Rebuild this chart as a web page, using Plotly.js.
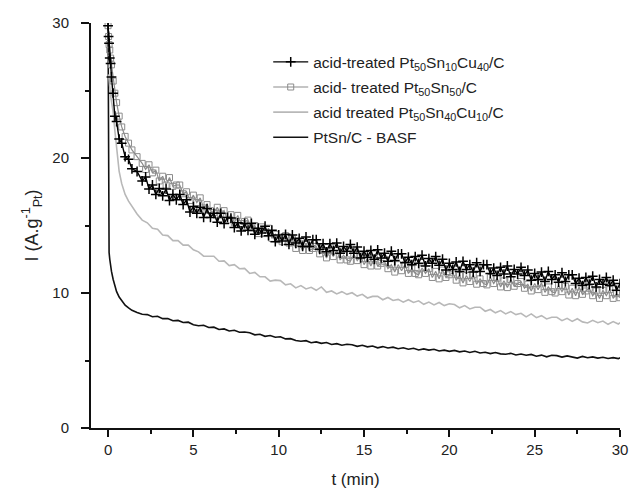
<!DOCTYPE html>
<html>
<head>
<meta charset="utf-8">
<script src="https://cdn.plot.ly/plotly-3.0.1.min.js"></script>
<style>html,body{margin:0;padding:0;background:#fff;}#chart{width:630px;height:489px;}</style>
</head>
<body>
<div id="chart"></div>
<script>
// time axis (min) for the two smoother curves
const timeMin = [0,0.03,0.06,0.1,0.15,0.2,0.3,0.4,0.5,0.65,0.8,1.0,1.2,1.4,1.7,2.0,
2.3,2.6,2.9,3.2,3.5,3.8,4.1,4.4,4.7,5.0,
5.3,5.6,5.9,6.2,6.5,6.8,7.1,7.4,7.7,8.0,
8.3,8.6,8.9,9.2,9.5,9.8,10.1,10.4,10.7,11.0,
11.3,11.6,11.9,12.2,12.5,12.8,13.1,13.4,13.7,14.0,
14.3,14.6,14.9,15.2,15.5,15.8,16.1,16.4,16.7,17.0,
17.3,17.6,17.9,18.2,18.5,18.8,19.1,19.4,19.7,20.0,
20.3,20.6,20.9,21.2,21.5,21.8,22.1,22.4,22.7,23.0,
23.3,23.6,23.9,24.2,24.5,24.8,25.1,25.4,25.7,26.0,
26.3,26.6,26.9,27.2,27.5,27.8,28.1,28.4,28.7,29.0,
29.3,29.6,29.9,30.0];

// denser time axis (min) for the two noisy curves
const timeDense = [0,0.03,0.06,0.1,0.15,0.2,0.3,0.4,0.5,0.65,0.8,1.0,1.2,1.4,1.7,2.0,
2.2,2.4,2.6,2.8,3.0, 3.2,3.4,3.6,3.8,4.0, 4.2,4.4,4.6,4.8,5.0, 5.2,5.4,5.6,5.8,6.0,
6.2,6.4,6.6,6.8,7.0, 7.2,7.4,7.6,7.8,8.0, 8.2,8.4,8.6,8.8,9.0, 9.2,9.4,9.6,9.8,10.0,
10.2,10.4,10.6,10.8,11.0, 11.2,11.4,11.6,11.8,12.0, 12.2,12.4,12.6,12.8,13.0, 13.2,13.4,13.6,13.8,14.0,
14.2,14.4,14.6,14.8,15.0, 15.2,15.4,15.6,15.8,16.0, 16.2,16.4,16.6,16.8,17.0, 17.2,17.4,17.6,17.8,18.0,
18.2,18.4,18.6,18.8,19.0, 19.2,19.4,19.6,19.8,20.0, 20.2,20.4,20.6,20.8,21.0, 21.2,21.4,21.6,21.8,22.0,
22.2,22.4,22.6,22.8,23.0, 23.2,23.4,23.6,23.8,24.0, 24.2,24.4,24.6,24.8,25.0, 25.2,25.4,25.6,25.8,26.0,
26.2,26.4,26.6,26.8,27.0, 27.2,27.4,27.6,27.8,28.0, 28.2,28.4,28.6,28.8,29.0, 29.2,29.4,29.6,29.8,30.0];

const seriesNames = [
  'acid-treated Pt<sub>50</sub>Sn<sub>10</sub>Cu<sub>40</sub>/C',
  'acid- treated Pt<sub>50</sub>Sn<sub>50</sub>/C',
  'acid treated Pt<sub>50</sub>Sn<sub>40</sub>Cu<sub>10</sub>/C',
  'PtSn/C - BASF'
];

const iPtSnCu_10_40 = [29.8,29.0,28.5,27.4,27.0,26.0,24.8,23.1,22.7,21.4,21.1,20.1,19.9,19.2,19.0,18.3,
18.6,17.7,18.0,17.3,17.75, 17.2,17.7,16.85,17.3,16.9, 17.3,16.55,16.9,16.0,16.4, 15.9,16.35,15.6,16.25,15.6,
15.9,15.25,15.9,15.15,15.6, 15.55,14.85,15.2,14.6,15.15, 14.65,15.15,14.35,14.8,14.45, 14.95,14.25,14.65,13.8,14.3,
13.85,14.35,13.6,14.3,13.7, 14.05,13.45,14.15,13.45,13.95, 13.95,13.25,13.65,13.05,13.65, 13.15,13.7,12.95,13.45,13.1,
13.6,12.95,13.4,12.6,13.1, 12.65,13.15,12.5,13.2,12.6, 12.95,12.35,13.1,12.4,12.9, 12.9,12.25,12.65,12.1,12.7,
12.2,12.8,12.0,12.55,12.2, 12.7,12.05,12.5,11.7,12.2, 11.75,12.3,11.6,12.35,11.75, 12.1,11.55,12.25,11.6,12.1,
12.1,11.45,11.85,11.3,11.9, 11.4,12.0,11.2,11.75,11.4, 11.9,11.3,11.7,10.95,11.45, 11.0,11.55,10.85,11.6,11.0,
11.35,10.8,11.5,10.85,11.35, 11.35,10.7,11.1,10.55,11.15, 10.65,11.25,10.45,11.0,10.65, 11.15,10.55,10.95,10.2,10.7];

const iPtSn_50 = [29.8,29.0,28.4,28.0,27.4,26.9,25.7,24.8,24.1,23.1,22.3,21.6,21.1,20.6,20.1,19.6,
19.15,19.5,18.9,19.1,18.3, 18.65,18.0,18.55,17.9,18.0, 18.0,17.35,17.5,16.85,17.25, 16.7,17.05,16.3,16.55,16.1,
15.95,16.35,15.85,16.1,15.4, 15.8,15.2,15.75,15.15,15.3, 15.4,14.8,15.0,14.4,14.9, 14.4,14.8,14.05,14.35,13.95,
13.8,14.25,13.7,14.0,13.3, 13.7,13.15,13.7,13.15,13.3, 13.45,12.9,13.15,12.6,13.15, 12.7,13.15,12.45,12.8,12.45,
12.35,12.85,12.4,12.75,12.1, 12.55,12.0,12.55,12.0,12.2, 12.35,11.8,12.1,11.55,12.1, 11.65,12.1,11.45,11.8,11.45,
11.35,11.85,11.45,11.8,11.15, 11.6,11.05,11.7,11.15,11.35, 11.5,10.95,11.3,10.75,11.3, 10.85,11.35,10.65,11.05,10.7,
10.6,11.15,10.7,11.1,10.45, 10.9,10.4,11.0,10.5,10.7, 10.85,10.35,10.65,10.15,10.7, 10.25,10.75,10.05,10.45,10.1,
10.0,10.55,10.1,10.5,9.85, 10.35,9.8,10.45,9.9,10.15, 10.35,9.8,10.15,9.6,10.2, 9.8,10.25,9.6,9.95,9.65];

const iPtSnCu_40_10 = [null,26.2,25.6,25.0,24.6,24.2,23.4,22.0,20.6,19.0,18.1,17.3,16.8,16.4,15.85,15.4,
15.2,14.8,14.72,14.3,14.25,13.88,13.88,13.55,13.55,13.2,
13.05,12.73,12.75,12.72,12.35,12.38,12.03,12.1,11.8,11.82,
11.45,11.52,11.2,11.2,10.88,10.95,10.92,10.6,10.68,10.38,
10.55,10.3,10.42,10.2,10.45,10.05,10.15,9.93,10.1,9.9,
10.02,9.77,9.9,9.63,9.75,9.75,9.5,9.67,9.45,9.53,
9.32,9.5,9.3,9.42,9.16,9.33,9.12,9.3,9.07,9.2,
9.15,8.9,9.07,8.82,8.95,8.95,8.65,8.78,8.53,8.7,
8.45,8.62,8.4,8.5,8.23,8.45,8.17,8.32,8.08,8.2,
8.2,7.95,8.12,7.9,8.09,7.86,7.78,7.98,7.8,7.92,
7.68,7.88,7.7,7.8];

const iBASF = [30,13.8,13.0,12.5,12.0,11.6,11.0,10.5,10.1,9.7,9.4,9.1,8.9,8.72,8.55,8.42,
8.4,8.24,8.28,8.1,8.11,7.94,7.97,7.82,7.84,7.65,
7.57,7.61,7.44,7.47,7.3,7.34,7.19,7.24,7.09,7.11,
7.05,6.9,6.94,6.79,6.85,6.72,6.76,6.6,6.62,6.48,
6.43,6.47,6.32,6.38,6.27,6.33,6.19,6.25,6.13,6.2,
6.17,6.05,6.13,6.01,6.07,5.94,6.03,5.93,5.99,5.87,
5.94,5.83,5.91,5.78,5.86,5.77,5.83,5.71,5.77,5.68,
5.75,5.64,5.7,5.59,5.68,5.56,5.61,5.51,5.59,5.49,
5.46,5.53,5.41,5.48,5.39,5.45,5.32,5.4,5.27,5.39,
5.36,5.25,5.34,5.24,5.18,5.3,5.2,5.27,5.18,5.24,
5.15,5.21,5.14,5.2];

const xTickVals = [0,5,10,15,20,25,30];
const yTickVals = [0,10,20,30];

const FONT = 'Liberation Sans, Arial, sans-serif';

const traces = [
  {x: timeMin, y: iBASF, name: seriesNames[3], mode: 'lines', legendrank: 4, legendgroup: 'd',
   line: {color: '#111111', width: 1.6}},
  {x: timeMin, y: iPtSnCu_40_10, name: seriesNames[2], mode: 'lines', legendrank: 3, legendgroup: 'c',
   line: {color: '#b8b8b8', width: 1.6}},
  {x: timeDense, y: iPtSn_50, name: seriesNames[1], mode: 'lines+markers', legendrank: 2, legendgroup: 'b',
   line: {color: '#8c8c8c', width: 1.2},
   marker: {symbol: 'square-open', size: 6, color: '#8c8c8c', line: {width: 1, color: '#8c8c8c'}}},
  {x: timeDense, y: iPtSnCu_10_40, name: seriesNames[0], mode: 'lines+markers', legendrank: 1, legendgroup: 'a',
   line: {color: '#000000', width: 1.4},
   marker: {symbol: 'cross-thin-open', size: 7, color: '#000000', line: {width: 1.5, color: '#000000'}}}
];

const layout = {
  width: 630, height: 489,
  margin: {l: 91, r: 10, t: 23, b: 61},
  paper_bgcolor: '#ffffff', plot_bgcolor: '#ffffff',
  font: {family: FONT, size: 15, color: '#222222'},
  showlegend: true,
  legend: {
    x: 0.335, y: 0.945, xanchor: 'left', yanchor: 'top',
    bgcolor: 'rgba(0,0,0,0)', borderwidth: 0,
    font: {family: FONT, size: 15.5, color: '#222222'},
    traceorder: 'grouped', tracegroupgap: 2, itemwidth: 35
  },
  xaxis: {
    range: [-1, 30], showgrid: false, zeroline: false,
    showline: true, linecolor: '#111111', linewidth: 2,
    tickmode: 'array', tickvals: xTickVals, ticktext: xTickVals.map(String),
    ticks: 'outside', ticklen: 7, tickwidth: 2, tickcolor: '#111111',
    ticklabelstandoff: 0,
    minor: {dtick: 2.5, tick0: 0, ticks: 'outside', ticklen: 4, tickwidth: 2, tickcolor: '#111111', showgrid: false},
    tickfont: {family: FONT, size: 15, color: '#222222'},
    title: {text: 't (min)', font: {family: FONT, size: 17, color: '#222222'}, standoff: 16}
  },
  yaxis: {
    range: [0, 30], showgrid: false, zeroline: false,
    showline: true, linecolor: '#111111', linewidth: 2,
    tickmode: 'array', tickvals: yTickVals, ticktext: yTickVals.map(String),
    ticks: 'outside', ticklen: 8, tickwidth: 2, tickcolor: '#111111',
    ticklabelstandoff: 9,
    minor: {dtick: 5, tick0: 0, ticks: 'outside', ticklen: 4, tickwidth: 2, tickcolor: '#111111', showgrid: false},
    tickfont: {family: FONT, size: 15, color: '#222222'},
    title: {text: 'I (A.g<sup>-1</sup><sub>Pt</sub>)', font: {family: FONT, size: 18, color: '#222222'}, standoff: 9}
  }
};

Plotly.newPlot('chart', traces, layout, {displayModeBar: false, staticPlot: true});
</script>
</body>
</html>
